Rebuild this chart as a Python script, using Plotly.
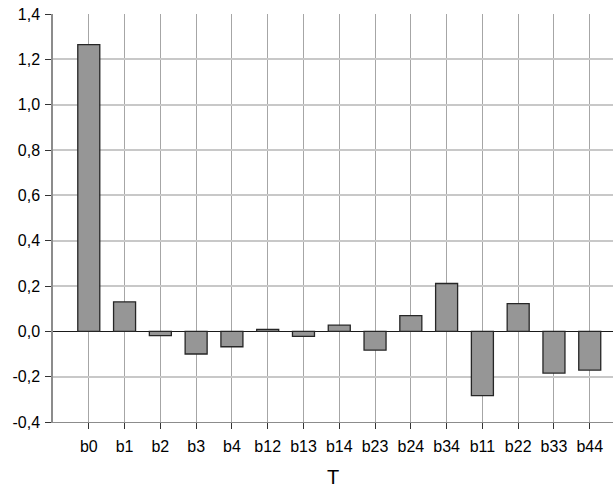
import plotly.graph_objects as go

categories = ["b0", "b1", "b2", "b3", "b4", "b12", "b13", "b14",
              "b23", "b24", "b34", "b11", "b22", "b33", "b44"]
values = [1.265, 0.13, -0.019, -0.10, -0.068, 0.009, -0.022, 0.027,
          -0.083, 0.069, 0.211, -0.284, 0.122, -0.184, -0.171]
y_ticks = [-0.4, -0.2, 0.0, 0.2, 0.4, 0.6, 0.8, 1.0, 1.2, 1.4]

idx = list(range(len(categories)))
# comma decimal mark with a plain hyphen for negatives
y_tick_text = [f"{v:.1f}".replace(".", ",") for v in y_ticks]

fig = go.Figure()
fig.add_trace(go.Bar(
    x=idx, y=values, width=0.615,
    marker=dict(color="#969696", line=dict(color="#262626", width=1.3)),
))

font_family = "Liberation Sans, Arial, sans-serif"

fig.update_layout(
    width=613, height=488,
    margin=dict(l=53, r=0, t=14, b=66),
    plot_bgcolor="white", paper_bgcolor="white",
    showlegend=False,
    font=dict(family=font_family, size=16, color="#000000"),
    xaxis=dict(
        range=[-1, 14.65],
        tickmode="array", tickvals=idx, ticktext=categories,
        showgrid=True, gridcolor="#a6a6a6", gridwidth=1,
        showline=True, linecolor="#8c8c8c", linewidth=1,
        ticks="outside", ticklen=6, tickcolor="#333333",
        ticklabelstandoff=4,
        zeroline=False,
        title=dict(text="T", font=dict(size=20), standoff=17),
    ),
    yaxis=dict(
        range=[-0.4, 1.4],
        tickmode="array", tickvals=y_ticks, ticktext=y_tick_text,
        showgrid=True, gridcolor="#c8c8c8", gridwidth=1.5,
        showline=True, linecolor="#8c8c8c", linewidth=1.5,
        ticks="outside", ticklen=6, tickcolor="#333333",
        ticklabelstandoff=2,
        zeroline=True, zerolinecolor="#1a1a1a", zerolinewidth=1.2,
    ),
)

fig.write_html("out.html")
